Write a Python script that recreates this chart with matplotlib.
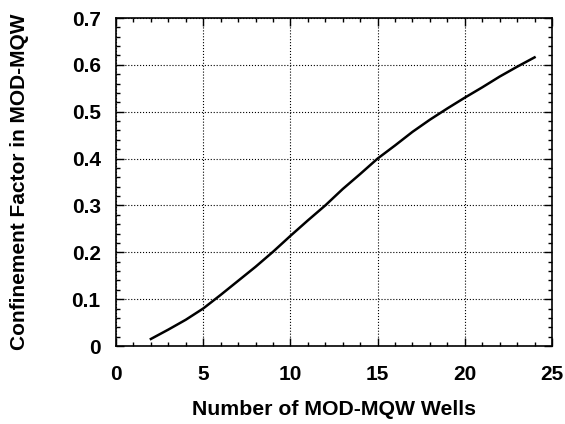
import matplotlib
matplotlib.use("Agg")
import matplotlib.pyplot as plt
from matplotlib.ticker import MultipleLocator

plt.rcParams['font.family'] = ['Liberation Sans', 'DejaVu Sans']
plt.rcParams['font.weight'] = 'bold'

# confinement factor vs number of wells
wells = [2, 3, 4, 5, 6, 7, 8, 9, 10, 11, 12, 13, 14, 15,
         16, 17, 18, 19, 20, 21, 22, 23, 24]
confinement = [0.015, 0.035, 0.056, 0.080, 0.109, 0.139, 0.169, 0.201, 0.235,
               0.268, 0.300, 0.335, 0.367, 0.400, 0.428, 0.457, 0.483, 0.507,
               0.530, 0.552, 0.575, 0.596, 0.616]
yticks = [0, 0.1, 0.2, 0.3, 0.4, 0.5, 0.6, 0.7]
ytick_labels = ['0', '0.1', '0.2', '0.3', '0.4', '0.5', '0.6', '0.7']

fig = plt.figure(figsize=(5.65, 4.24), dpi=100)
ax = fig.add_axes([116 / 565, 1 - 346 / 424, 436 / 565, 328 / 424])

ax.plot(wells, confinement, color='black', linewidth=1.8)

ax.set_xlim(0, 25)
ax.set_ylim(0, 0.7)
ax.xaxis.set_major_locator(MultipleLocator(5))
ax.xaxis.set_minor_locator(MultipleLocator(1))
ax.set_yticks(yticks)
ax.set_yticklabels(ytick_labels)
ax.yaxis.set_minor_locator(MultipleLocator(0.02))

ax.tick_params(which='both', direction='in', top=True, right=True, width=1)
ax.tick_params(which='major', length=6, labelsize=15)
ax.tick_params(axis='x', which='major', pad=13.5)
ax.tick_params(axis='y', which='major', pad=11)
ax.tick_params(which='minor', length=3)
ax.grid(True, which='major', linestyle=':', color='black', linewidth=0.8)
for s in ax.spines.values():
    s.set_linewidth(1.2)

ax.set_xlabel('Number of MOD-MQW Wells', fontsize=15.3, fontweight='bold', labelpad=12)
ax.set_ylabel('Confinement Factor in MOD-MQW', fontsize=15, fontweight='bold')
ax.yaxis.set_label_coords(-87 / 436, 0.5)

fig.savefig('out.png', dpi=100)
